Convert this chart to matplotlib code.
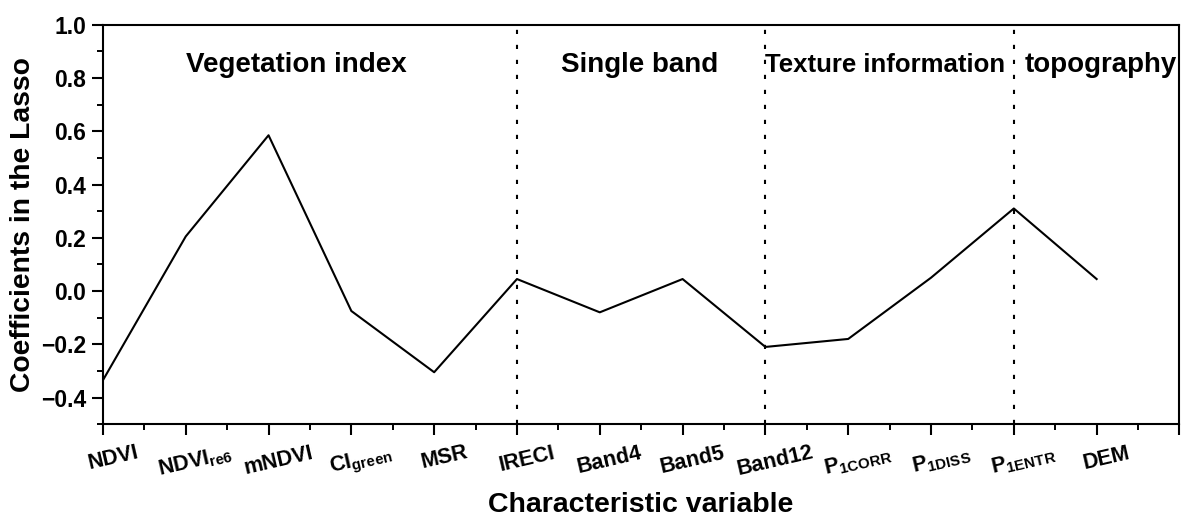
import matplotlib
matplotlib.use("Agg")
import matplotlib.pyplot as plt
import matplotlib.transforms as mtransforms
from matplotlib.ticker import MultipleLocator

plt.rcParams['font.family'] = ['Liberation Sans', 'DejaVu Sans']
plt.rcParams['font.weight'] = 'bold'
plt.rcParams['mathtext.fontset'] = 'custom'
plt.rcParams['mathtext.rm'] = 'Liberation Sans:bold'
plt.rcParams['mathtext.bf'] = 'Liberation Sans:bold'
plt.rcParams['mathtext.default'] = 'rm'

# variables and lasso coefficients
variables = ['NDVI', r'NDVI$_{re6}$', 'mNDVI', r'CI$_{green}$', 'MSR', 'IRECI',
             'Band4', 'Band5', 'Band12', r'P$_{1CORR}$', r'P$_{1DISS}$',
             r'P$_{1ENTR}$', 'DEM']
coefs = [-0.335, 0.205, 0.585, -0.075, -0.305, 0.045,
         -0.08, 0.045, -0.21, -0.18, 0.05, 0.31, 0.045]

groups = ['Vegetation index', 'Single band', 'Texture information', 'topography']
group_centers = [2.34, 6.48, 9.45, 12.05]
boundaries = [5, 8, 11]
yticks = [-0.4, -0.2, 0.0, 0.2, 0.4, 0.6, 0.8, 1.0]

fig = plt.figure(figsize=(11.83, 5.16), dpi=100)
ax = fig.add_axes([0.087, 0.178, 0.910, 0.774])

x = list(range(len(variables)))
ax.plot(x, coefs, color='black', lw=1.5)

for b in boundaries:
    ax.axvline(b, ymin=0, ymax=1.01, color='black', ls=(0, (2, 5.2)), lw=1.5, clip_on=False)

for g, c in zip(groups, group_centers):
    fs = 18.5 if g == 'Texture information' else 20
    ax.text(c, 0.823, g, ha='center', va='baseline', fontsize=fs, fontweight='bold')

ax.set_xlim(0, 13)
ax.set_ylim(-0.5, 1.0)
ax.set_xticks(list(range(14)))
ax.set_xticklabels(variables + [''], rotation=13, fontsize=15.5, fontweight='bold')
ax.xaxis.set_minor_locator(MultipleLocator(0.5))
ax.set_yticks(yticks)
ax.set_yticklabels([('%.1f' % v).replace('-', '\u2212') for v in yticks],
                   fontsize=16.5, fontweight='bold')
ax.yaxis.set_minor_locator(MultipleLocator(0.1))
ax.tick_params(which='major', direction='out', length=8, width=1.5)
ax.tick_params(axis='x', which='major', pad=5)
ax.tick_params(axis='y', which='major', pad=4)
ax.tick_params(which='minor', direction='out', length=4.3, width=1.4)
for s in ax.spines.values():
    s.set_linewidth(1.5)

# nudge the slanted labels a little to the right, like the original
shift = mtransforms.ScaledTranslation(0.1, 0, fig.dpi_scale_trans)
for lab in ax.get_xticklabels():
    lab.set_transform(lab.get_transform() + shift)

ax.set_xlabel('Characteristic variable', fontsize=20.5, fontweight='bold')
ax.xaxis.set_label_coords(0.5, -0.17)
ax.set_ylabel('Coefficients in the Lasso', fontsize=20.3, fontweight='bold')
ax.yaxis.set_label_coords(-0.062, 0.5)

fig.savefig('out.png', dpi=100)
